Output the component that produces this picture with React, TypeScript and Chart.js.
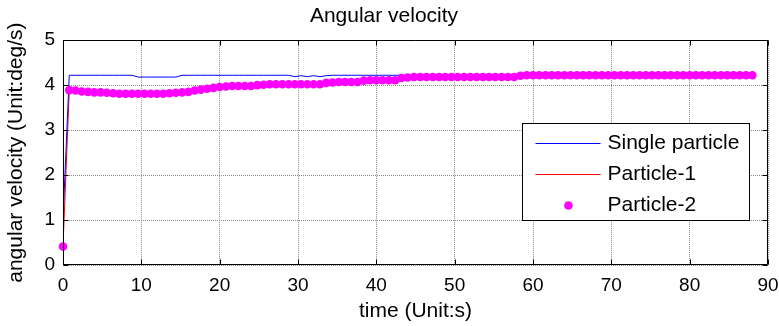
import React, { useEffect, useRef } from "react";
import { Chart, registerables } from "chart.js";

Chart.register(...registerables);

const chartTitle = "Angular velocity";
const xAxisTitle = "time (Unit:s)";
const yAxisTitle = "angular velocity (Unit:deg/s)";
const seriesLabels = ["Single particle", "Particle-1", "Particle-2"];

const times = [
  0, 0.8, 1.6, 2.4, 3.2, 4, 4.8, 5.6, 6.4, 7.2,
  8, 8.8, 9.6, 10.4, 11.2, 12, 12.8, 13.6, 14.4, 15.2,
  16, 16.8, 17.6, 18.4, 19.2, 20, 20.8, 21.6, 22.4, 23.2,
  24, 24.8, 25.6, 26.4, 27.2, 28, 28.8, 29.6, 30.4, 31.2,
  32, 32.8, 33.6, 34.4, 35.2, 36, 36.8, 37.6, 38.4, 39.2,
  40, 40.8, 41.6, 42.4, 43.2, 44, 44.8, 45.6, 46.4, 47.2,
  48, 48.8, 49.6, 50.4, 51.2, 52, 52.8, 53.6, 54.4, 55.2,
  56, 56.8, 57.6, 58.4, 59.2, 60, 60.8, 61.6, 62.4, 63.2,
  64, 64.8, 65.6, 66.4, 67.2, 68, 68.8, 69.6, 70.4, 71.2,
  72, 72.8, 73.6, 74.4, 75.2, 76, 76.8, 77.6, 78.4, 79.2,
  80, 80.8, 81.6, 82.4, 83.2, 84, 84.8, 85.6, 86.4, 87.2,
  88,
];

const singleParticle = [
  1.02, 4.22, 4.22, 4.22, 4.22, 4.22, 4.22, 4.22, 4.22, 4.22,
  4.22, 4.22, 4.18, 4.18, 4.18, 4.18, 4.18, 4.18, 4.18, 4.22,
  4.22, 4.22, 4.22, 4.22, 4.22, 4.22, 4.22, 4.22, 4.22, 4.22,
  4.22, 4.22, 4.22, 4.22, 4.22, 4.22, 4.22, 4.19, 4.21, 4.19,
  4.21, 4.19, 4.21, 4.22, 4.22, 4.22, 4.22, 4.22, 4.22, 4.22,
  4.22, 4.22, 4.22, 4.22, 4.22, 4.22, 4.22, 4.22, 4.22, 4.22,
  4.22, 4.22, 4.22, 4.22, 4.22, 4.22, 4.22, 4.22, 4.22, 4.22,
  4.22, 4.22, 4.22, 4.22, 4.22, 4.22, 4.22, 4.22, 4.22, 4.22,
  4.22, 4.22, 4.22, 4.22, 4.22, 4.22, 4.22, 4.22, 4.22, 4.22,
  4.22, 4.22, 4.22, 4.22, 4.22, 4.22, 4.22, 4.22, 4.22, 4.22,
  4.22, 4.22, 4.22, 4.22, 4.22, 4.22, 4.22, 4.22, 4.22, 4.22,
  4.22,
];

const particle1 = [
  0.41, 3.89, 3.88, 3.86, 3.85, 3.84, 3.84, 3.83, 3.82, 3.81,
  3.81, 3.81, 3.81, 3.81, 3.81, 3.81, 3.81, 3.82, 3.83, 3.84,
  3.85, 3.88, 3.90, 3.92, 3.94, 3.96, 3.97, 3.98, 3.98, 3.98,
  3.98, 4.00, 4.01, 4.02, 4.02, 4.02, 4.02, 4.02, 4.02, 4.02,
  4.02, 4.02, 4.05, 4.06, 4.07, 4.07, 4.07, 4.07, 4.10, 4.11,
  4.11, 4.11, 4.11, 4.11, 4.16, 4.17, 4.18, 4.18, 4.18, 4.18,
  4.18, 4.18, 4.18, 4.18, 4.18, 4.18, 4.18, 4.18, 4.18, 4.18,
  4.18, 4.18, 4.18, 4.21, 4.22, 4.22, 4.22, 4.22, 4.22, 4.22,
  4.22, 4.22, 4.22, 4.22, 4.22, 4.22, 4.22, 4.22, 4.22, 4.22,
  4.22, 4.22, 4.22, 4.22, 4.22, 4.22, 4.22, 4.22, 4.22, 4.22,
  4.22, 4.22, 4.22, 4.22, 4.22, 4.22, 4.22, 4.22, 4.22, 4.22,
  4.22,
];

const particle2 = [
  0.41, 3.89, 3.88, 3.86, 3.85, 3.84, 3.84, 3.83, 3.82, 3.81,
  3.81, 3.81, 3.81, 3.81, 3.81, 3.81, 3.81, 3.82, 3.83, 3.84,
  3.85, 3.88, 3.90, 3.92, 3.94, 3.96, 3.97, 3.98, 3.98, 3.98,
  3.98, 4.00, 4.01, 4.02, 4.02, 4.02, 4.02, 4.02, 4.02, 4.02,
  4.02, 4.02, 4.05, 4.06, 4.07, 4.07, 4.07, 4.07, 4.10, 4.11,
  4.11, 4.11, 4.11, 4.11, 4.16, 4.17, 4.18, 4.18, 4.18, 4.18,
  4.18, 4.18, 4.18, 4.18, 4.18, 4.18, 4.18, 4.18, 4.18, 4.18,
  4.18, 4.18, 4.18, 4.21, 4.22, 4.22, 4.22, 4.22, 4.22, 4.22,
  4.22, 4.22, 4.22, 4.22, 4.22, 4.22, 4.22, 4.22, 4.22, 4.22,
  4.22, 4.22, 4.22, 4.22, 4.22, 4.22, 4.22, 4.22, 4.22, 4.22,
  4.22, 4.22, 4.22, 4.22, 4.22, 4.22, 4.22, 4.22, 4.22, 4.22,
  4.22,
];

const FONT = "'Liberation Sans', Arial, Helvetica, sans-serif";

const toPoints = (ys: number[]) => ys.map((y, i) => ({ x: times[i], y }));

const matlabFramePlugin = {
  id: "matlabFrame",
  afterDraw(chart: any) {
    const { ctx, chartArea: a, scales } = chart;
    const xs = scales.x;
    const ys = scales.y;
    const L = Math.round(a.left) + 0.5;
    const R = Math.round(a.right) - 0.5;
    const T = Math.round(a.top) + 0.5;
    const B = Math.round(a.bottom) - 0.5;
    const tl = 5;
    ctx.save();
    ctx.setLineDash([]);
    ctx.strokeStyle = "#000";
    ctx.lineWidth = 1;
    ctx.beginPath();
    ctx.rect(L, T, R - L, B - T);
    xs.ticks.forEach((t: any) => {
      const px = Math.round(xs.getPixelForValue(t.value)) + 0.5;
      ctx.moveTo(px, B);
      ctx.lineTo(px, B - tl);
      ctx.moveTo(px, T);
      ctx.lineTo(px, T + tl);
    });
    ys.ticks.forEach((t: any) => {
      const py = Math.round(ys.getPixelForValue(t.value)) + 0.5;
      ctx.moveTo(L, py);
      ctx.lineTo(L + tl, py);
      ctx.moveTo(R, py);
      ctx.lineTo(R - tl, py);
    });
    ctx.stroke();

    // legend box inside the plot (MATLAB style)
    const w = 227;
    const h = 97;
    const bx = Math.round(a.right - 19 - w) + 0.5;
    const by = Math.round(a.top + 83) + 0.5;
    ctx.fillStyle = "#fff";
    ctx.fillRect(bx, by, w, h);
    ctx.strokeStyle = "#000";
    ctx.strokeRect(bx, by, w, h);
    const rows = [19, 50, 81];
    ctx.font = `21px ${FONT}`;
    ctx.textBaseline = "middle";
    ctx.textAlign = "left";
    chart.data.datasets.forEach((ds: any, i: number) => {
      const yy = Math.round(by + rows[i]) + 0.5;
      if (ds.showLine === false) {
        ctx.fillStyle = ds.pointBackgroundColor;
        ctx.beginPath();
        ctx.arc(bx + 46, yy, ds.pointRadius, 0, Math.PI * 2);
        ctx.fill();
      } else {
        ctx.strokeStyle = ds.borderColor;
        ctx.lineWidth = ds.borderWidth;
        ctx.beginPath();
        ctx.moveTo(bx + 13, yy);
        ctx.lineTo(bx + 78, yy);
        ctx.stroke();
      }
      ctx.fillStyle = "#000";
      ctx.fillText(ds.label, bx + 85, yy);
    });
    ctx.restore();
  },
};

export default function App() {
  const ref = useRef<HTMLCanvasElement | null>(null);

  useEffect(() => {
    document.body.style.margin = "0";
    const canvas = ref.current;
    if (!canvas) return;
    Chart.defaults.font.family = FONT;
    Chart.defaults.color = "#000";
    const gridColor = "#8a8a8a";
    const chart = new Chart(canvas, {
      type: "scatter",
      data: {
        datasets: [
          {
            label: seriesLabels[0],
            data: toPoints(singleParticle),
            showLine: true,
            borderColor: "#0000ff",
            backgroundColor: "#0000ff",
            borderWidth: 1,
            pointRadius: 0,
            order: 1,
          },
          {
            label: seriesLabels[1],
            data: toPoints(particle1),
            showLine: true,
            borderColor: "#ff0000",
            backgroundColor: "#ff0000",
            borderWidth: 1,
            pointRadius: 0,
            order: 2,
          },
          {
            label: seriesLabels[2],
            data: toPoints(particle2),
            showLine: false,
            pointRadius: 4.3,
            pointBackgroundColor: "#ff00ff",
            pointBorderWidth: 0,
            pointBorderColor: "#ff00ff",
            clip: false,
            order: 0,
          } as any,
        ],
      },
      options: {
        responsive: false,
        maintainAspectRatio: false,
        devicePixelRatio: 1,
        animation: false,
        layout: { padding: { left: 0, right: 11, top: 0, bottom: 0 } },
        plugins: {
          legend: { display: false },
          tooltip: { enabled: false },
          title: {
            display: true,
            text: chartTitle,
            color: "#000",
            font: { size: 21, weight: "normal", family: FONT },
            padding: { top: 4, bottom: 11 },
          },
        },
        scales: {
          x: {
            type: "linear",
            min: 0,
            max: 90,
            ticks: { stepSize: 10, padding: 9, color: "#000", font: { size: 19 } },
            grid: { color: gridColor, drawTicks: false, lineWidth: 1 },
            border: { display: false, dash: [1, 1] },
            title: {
              display: true,
              text: xAxisTitle,
              color: "#000",
              font: { size: 21 },
              padding: { top: 0, bottom: 2 },
            },
            afterFit: (s: any) => {
              s.height = 61;
              s.paddingLeft = 0;
              s.paddingRight = 0;
            },
          },
          y: {
            type: "linear",
            min: 0,
            max: 5,
            ticks: { stepSize: 1, padding: 8, color: "#000", font: { size: 19 } },
            grid: { color: gridColor, drawTicks: false, lineWidth: 1 },
            border: { display: false, dash: [1, 1] },
            title: {
              display: true,
              text: yAxisTitle,
              color: "#000",
              font: { size: 21 },
              padding: { top: 4, bottom: 0 },
            },
            afterFit: (s: any) => {
              s.width = 63;
              s.paddingTop = 0;
              s.paddingBottom = 0;
            },
          },
        },
      } as any,
      plugins: [matlabFramePlugin],
    });
    return () => chart.destroy();
  }, []);

  return (
    <div style={{ position: "absolute", left: 0, top: 0, width: 779, height: 326, background: "#fff" }}>
      <canvas ref={ref} width={779} height={326} style={{ width: 779, height: 326, display: "block" }} />
    </div>
  );
}
